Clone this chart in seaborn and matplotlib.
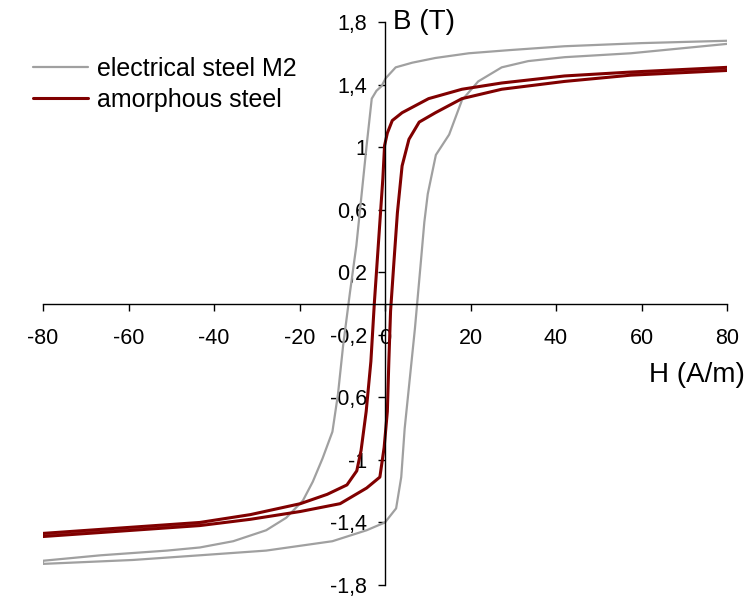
import matplotlib
matplotlib.use('Agg')
import matplotlib.pyplot as plt
import seaborn as sns
import pandas as pd

# electrical steel M2: descending branch (H from +80 to -80), then ascending branch
m2_down_h = [80, 60, 42, 29, 19.6, 11.8, 6.4, 2.5, 0.15, -0.8, -2, -3.1, -4.3, -5.5, -6.7,
             -8.2, -9.8, -11, -12.3, -14.6, -16.9, -19.2, -23.1, -27.8, -35.5, -43.3, -51,
             -66.5, -80]
m2_down_b = [1.68, 1.665, 1.645, 1.62, 1.60, 1.57, 1.54, 1.51, 1.44, 1.39, 1.36, 1.31, 1.01,
             0.69, 0.37, 0.07, -0.27, -0.58, -0.82, -0.99, -1.14, -1.26, -1.37, -1.45, -1.52,
             -1.56, -1.58, -1.61, -1.645]
m2_up_h = [-80, -59, -43.3, -27.8, -12.3, -4.3, 0, 2.6, 3.8, 4.6, 5.8, 7.0, 8.4, 9.2, 10.0,
           11.9, 15, 18, 21.8, 27.3, 33.5, 42, 57.5, 80]
m2_up_b = [-1.665, -1.64, -1.61, -1.58, -1.52, -1.45, -1.40, -1.31, -1.11, -0.80, -0.48,
           -0.16, 0.27, 0.52, 0.70, 0.95, 1.08, 1.30, 1.42, 1.51, 1.55, 1.575, 1.60, 1.66]

# amorphous steel
am_down_h = [80, 57.5, 42, 27.3, 18, 10.2, 4, 1.7, 0.55, -0.1, -0.5, -1.3, -2.1, -2.5, -3.3,
             -4.4, -5.6, -6.6, -8.9, -13.5, -19.8, -31.5, -43.3, -59, -80]
am_down_b = [1.51, 1.48, 1.455, 1.41, 1.37, 1.31, 1.22, 1.17, 1.09, 1.01, 0.80, 0.48, 0.16,
             0.0, -0.37, -0.69, -0.94, -1.07, -1.16, -1.22, -1.28, -1.35, -1.40, -1.43, -1.47]
am_up_h = [-80, -59, -43.3, -31.5, -19.8, -10.5, -4.3, -1.2, -0.2, 0.55, 0.9, 1.3, 2.1, 2.9,
           4.0, 5.6, 8, 11.8, 18, 27.3, 42, 57.5, 80]
am_up_b = [-1.49, -1.45, -1.42, -1.38, -1.33, -1.28, -1.18, -1.11, -0.92, -0.69, -0.37, -0.05,
           0.27, 0.58, 0.88, 1.05, 1.16, 1.22, 1.31, 1.37, 1.42, 1.46, 1.49]

x_ticks = [-80, -60, -40, -20, 0, 20, 40, 60, 80]
y_ticks = [-1.8, -1.4, -1.0, -0.6, -0.2, 0.2, 0.6, 1.0, 1.4, 1.8]
y_tick_labels = ['-1,8', '-1,4', '-1', '-0,6', '-0,2', '0,2', '0,6', '1', '1,4', '1,8']

m2 = pd.DataFrame({'H': m2_down_h + m2_up_h, 'B': m2_down_b + m2_up_b})
am = pd.DataFrame({'H': am_down_h + am_up_h, 'B': am_down_b + am_up_b})

sns.set_style('white')
plt.rcParams['font.family'] = ['Liberation Sans', 'DejaVu Sans']
plt.rcParams['text.color'] = 'black'

fig = plt.figure(figsize=(7.54, 5.98), dpi=100)
ax = fig.add_axes([43 / 754, 1 - 585 / 598, 684 / 754, 563 / 598])

sns.lineplot(data=m2, x='H', y='B', sort=False, estimator=None, color='#a0a0a0',
             linewidth=1.6, label='electrical steel M2', ax=ax)
sns.lineplot(data=am, x='H', y='B', sort=False, estimator=None, color='#800000',
             linewidth=2.2, label='amorphous steel', ax=ax)

ax.set_xlim(-80, 80)
ax.set_ylim(-1.8, 1.8)
for side in ['top', 'right']:
    ax.spines[side].set_visible(False)
for side in ['left', 'bottom']:
    ax.spines[side].set_position(('data', 0))
    ax.spines[side].set_color('black')
    ax.spines[side].set_linewidth(1.0)

ax.set_xticks(x_ticks)
ax.set_xticklabels([str(t) for t in x_ticks])
ax.set_yticks(y_ticks)
ax.set_yticklabels(y_tick_labels)
ax.tick_params(axis='x', bottom=True, direction='out', length=5, width=1, pad=13,
               labelsize=15.5, colors='black')
ax.tick_params(axis='y', left=True, direction='out', length=5, width=1, pad=8,
               labelsize=15.5, colors='black')
ax.set_xlabel('')
ax.set_ylabel('')

ax.text(1.8, 1.8, 'B (T)', fontsize=20, ha='left', va='center', color='black')
ax.text(61.7, -0.46, 'H (A/m)', fontsize=20, ha='left', va='center', color='black',
        clip_on=False)

leg = ax.legend(loc='upper left', bbox_to_anchor=(33 / 754, 1 - 57 / 598),
                bbox_transform=fig.transFigure, frameon=False, fontsize=18,
                handlelength=2.2, handletextpad=0.35, labelspacing=0.28, borderpad=0,
                borderaxespad=0)
for t in leg.get_texts():
    t.set_color('black')

fig.savefig('out.png', dpi=100)
